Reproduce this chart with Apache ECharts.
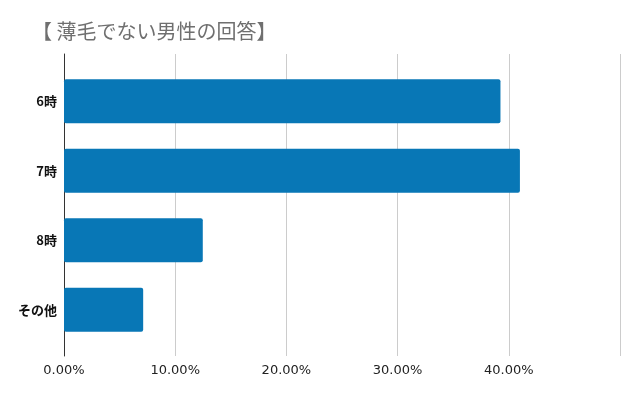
<!DOCTYPE html>
<html><head><meta charset="utf-8">
<script src="https://cdn.jsdelivr.net/npm/echarts@6/dist/echarts.min.js"></script>
<style>html,body{margin:0;padding:0;background:#fff}#c{width:640px;height:396px}</style>
</head><body><div id="c"></div>
<script>
const titleText = '【 薄毛でない男性の回答】';
const categories = ['6時', '7時', '8時', 'その他'];
const values = [0.3925, 0.410, 0.1248, 0.0712];
const xTicks = [0, 0.1, 0.2, 0.3, 0.4, 0.5];

const chart = echarts.init(document.getElementById('c'), null, {renderer: 'canvas'});
chart.setOption({
  animation: false,
  backgroundColor: '#fff',
  title: {
    text: titleText, left: 27, top: 16,
    textStyle: {fontFamily: 'Noto Sans CJK JP', fontSize: 20, fontWeight: 'normal', color: '#6f6f6f'}
  },
  grid: [
    {left: 64, top: 66.5, width: 556, height: 278},
    {left: 64, top: 54, width: 556, height: 302}
  ],
  xAxis: [
    {gridIndex: 0, type: 'value', min: xTicks[0], max: xTicks[xTicks.length - 1], interval: 0.1, show: false},
    {gridIndex: 1, type: 'value', min: xTicks[0], max: xTicks[xTicks.length - 1], interval: 0.1,
     axisLine: {show: false}, axisTick: {show: false},
     splitLine: {show: true, lineStyle: {color: '#cccccc', width: 1}},
     axisLabel: {margin: 8, color: '#222', fontFamily: 'DejaVu Sans', fontSize: 13,
       formatter: v => (Math.abs(v - 0.5) < 1e-9 ? '' : (v * 100).toFixed(2) + '%')}}
  ],
  yAxis: [
    {gridIndex: 0, type: 'category', data: categories, inverse: true,
     axisLine: {show: false}, axisTick: {show: false}, splitLine: {show: false},
     axisLabel: {margin: 7, color: '#111', fontWeight: 'bold', fontSize: 13, fontFamily: 'Noto Sans CJK JP'}},
    {gridIndex: 1, type: 'category', data: [''], axisLabel: {show: false}, axisTick: {show: false},
     axisLine: {show: true, lineStyle: {color: '#333', width: 1}}, splitLine: {show: false}}
  ],
  series: [{
    type: 'bar', xAxisIndex: 0, yAxisIndex: 0, data: values, barWidth: 44,
    itemStyle: {color: '#0877b6', borderRadius: 2}
  }]
});
</script></body></html>
